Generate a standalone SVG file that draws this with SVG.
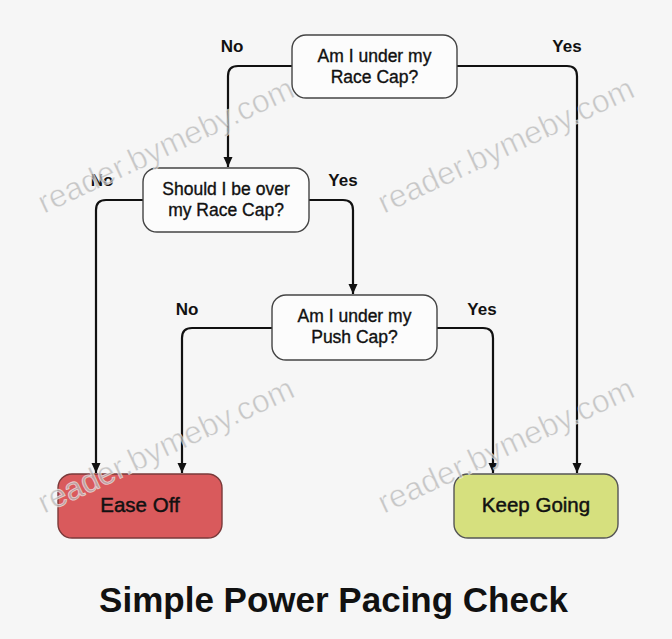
<svg xmlns="http://www.w3.org/2000/svg" width="672" height="639" viewBox="0 0 672 639">
  <style>
    .node rect { fill: #fcfcfc; stroke: #444; stroke-width: 1.4; }
    .node text { font-family: "Liberation Sans", Arial, sans-serif; font-size: 17.5px; fill: #111; stroke: #111; stroke-width: 0.35; text-anchor: middle; }
    .term text { font-family: "Liberation Sans", Arial, sans-serif; font-size: 20.5px; fill: #111; stroke: #111; stroke-width: 0.45; text-anchor: middle; }
    .edge { fill: none; stroke: #111; stroke-width: 2.2; }
    .lbl { font-family: "Liberation Sans", Arial, sans-serif; font-size: 17px; font-weight: bold; fill: #111; text-anchor: middle; }
    .wm { font-family: "Liberation Sans", Arial, sans-serif; font-size: 32px; fill: #b8b8b8; fill-opacity: 0.75; stroke: #ffffff; stroke-width: 0.8; stroke-opacity: 0.6; }
    .title { font-family: "Liberation Sans", Arial, sans-serif; font-size: 35px; font-weight: bold; fill: #111; text-anchor: middle; }
  </style>
  <defs>
    <marker id="arr" markerWidth="12" markerHeight="12" refX="10" refY="6" orient="auto" markerUnits="userSpaceOnUse">
      <path d="M0,1.5 L10,6 L0,10.5 Z" fill="#111"/>
    </marker>
  </defs>
  <rect x="0" y="0" width="672" height="639" fill="#f6f6f6"/>

  <g id="connectors">
    <path class="edge" d="M292,66 H238 Q228,66 228,76 V167" marker-end="url(#arr)"/>
    <path class="edge" d="M457,66 H567 Q577,66 577,76 V473" marker-end="url(#arr)"/>
    <path class="edge" d="M143,200 H106 Q96,200 96,210 V473" marker-end="url(#arr)"/>
    <path class="edge" d="M309,200 H343 Q353,200 353,210 V294" marker-end="url(#arr)"/>
    <path class="edge" d="M272,328 H192 Q182,328 182,338 V473" marker-end="url(#arr)"/>
    <path class="edge" d="M437,328 H483 Q493,328 493,338 V473" marker-end="url(#arr)"/>
    <text class="lbl" x="232" y="52">No</text>
    <text class="lbl" x="567" y="52">Yes</text>
    <text class="lbl" x="102" y="186">No</text>
    <text class="lbl" x="343" y="186">Yes</text>
    <text class="lbl" x="187" y="315">No</text>
    <text class="lbl" x="482" y="315">Yes</text>
  </g>

  <g id="q1" class="node">
    <rect x="292" y="35" width="165" height="63" rx="14"/>
    <text x="374.5" y="62">Am I under my</text>
    <text x="374.5" y="83">Race Cap?</text>
  </g>
  <g id="q2" class="node">
    <rect x="143" y="168" width="166" height="64" rx="14"/>
    <text x="226" y="195">Should I be over</text>
    <text x="226" y="216">my Race Cap?</text>
  </g>
  <g id="q3" class="node">
    <rect x="272" y="295" width="165" height="65" rx="14"/>
    <text x="354.5" y="322">Am I under my</text>
    <text x="354.5" y="343">Push Cap?</text>
  </g>
  <g id="ease-off" class="term">
    <rect x="58" y="474" width="164" height="64" rx="14" fill="#d95a5c" stroke="#7a3a3a" stroke-width="1.4"/>
    <text x="140" y="512">Ease Off</text>
  </g>
  <g id="keep-going" class="term">
    <rect x="454" y="474" width="164" height="64" rx="14" fill="#d6e07e" stroke="#555" stroke-width="1.4"/>
    <text x="536" y="512">Keep Going</text>
  </g>

  <g id="watermarks">
    <text class="wm" x="44" y="214" transform="rotate(-25 44 214)">reader.bymeby.com</text>
    <text class="wm" x="384" y="214" transform="rotate(-25 384 214)">reader.bymeby.com</text>
    <text class="wm" x="44" y="514" transform="rotate(-25 44 514)">reader.bymeby.com</text>
    <text class="wm" x="384" y="514" transform="rotate(-25 384 514)">reader.bymeby.com</text>
  </g>

  <text class="title" x="333.5" y="612">Simple Power Pacing Check</text>
</svg>
